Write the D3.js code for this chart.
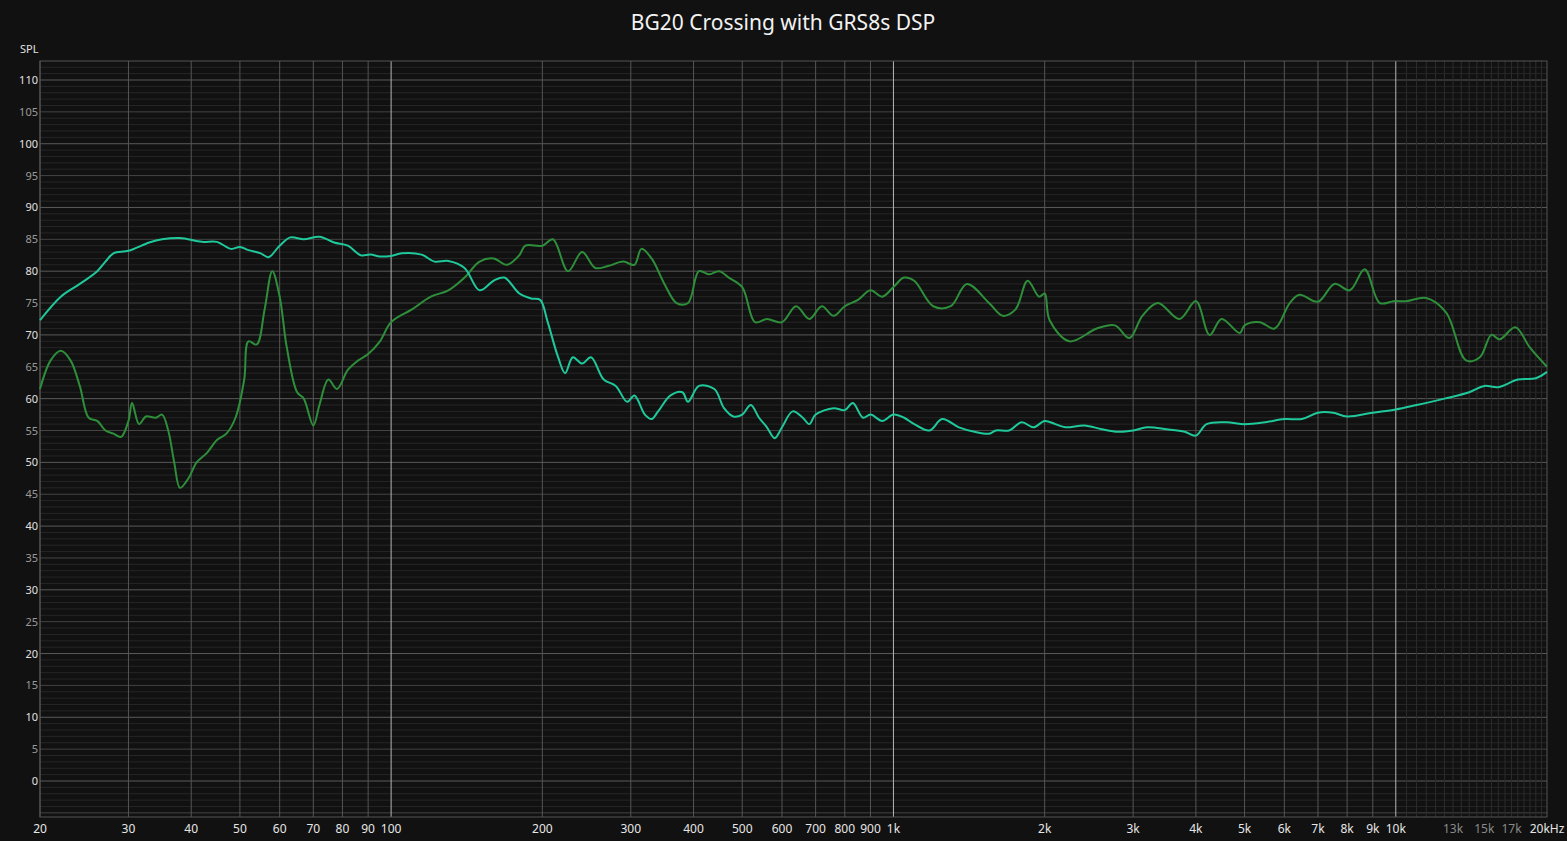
<!DOCTYPE html>
<html>
<head>
<meta charset="utf-8">
<script src="https://cdn.jsdelivr.net/npm/d3@7"></script>
<style>
  body { margin: 0; background: #111111; }
  svg { display: block; font-family: "Noto Sans", "Open Sans", sans-serif; }
</style>
</head>
<body>
<svg id="chart" width="1567" height="841"></svg>
<script>
// measured responses, [Hz, dB]
const cyanFreq = [20,22,24,26,27,28,30,33,35,38,42,45,48,50,52,55,57,60,63,67,72,77,82,87,91,95,100,105,115,122,130,140,150,160,168,180,190,198,205,215,222,230,240,250,265,280,295,305,320,330,340,360,380,390,410,440,460,480,500,520,540,560,580,600,630,660,680,700,760,800,830,870,900,950,1000,1050,1100,1180,1250,1350,1450,1550,1600,1700,1800,1900,2000,2100,2200,2400,2600,2800,3000,3200,3500,3800,4000,4200,4600,5000,5500,6000,6500,7000,7500,8000,9000,10000,11000,12500,14000,15000,16000,17500,19000,20000];
const cyanDb = [72.3,76,78,80,81.5,82.8,83.2,84.5,85,85.2,84.6,84.6,83.5,83.8,83.3,82.8,82.2,84,85.3,85,85.4,84.5,84,82.5,82.6,82.3,82.4,82.8,82.6,81.5,81.6,80.5,77,78.5,79,76.5,75.7,75.5,72,66.5,64,66.5,65.5,66.5,63,62,59.5,60.5,57.5,56.8,58,60.5,61,59.5,62,61.5,58.5,57.2,57.5,59,57,55.5,53.8,55.5,58,57,56,57.5,58.5,58.2,59.3,57,57.5,56.5,57.5,57,56,55,56.8,55.5,54.8,54.5,55,55,56.3,55.5,56.5,56,55.5,55.8,55.2,54.8,55,55.5,55.2,54.8,54.2,56,56.3,56,56.3,56.8,56.8,57.8,57.8,57.2,57.8,58.3,59,60,61,62,61.8,63,63.2,64.2];

const greenFreq = [20,21,22,23,24,25,26,27,28,29,30,30.5,31.5,32.5,34,35,36,37,38,39.5,41,43,45,47,49,51,52,54,56,58,60,62,65,67,70,72,75,78,82,86,90,95,100,110,120,130,140,150,160,170,180,185,200,210,225,240,255,270,290,305,315,330,350,370,390,410,430,450,470,500,530,560,600,640,680,720,760,800,850,900,950,1000,1050,1100,1200,1300,1400,1550,1650,1750,1850,1950,2000,2046,2240,2540,2760,2950,3130,3360,3710,4000,4260,4500,4890,5000,5360,5740,6150,6430,7000,7550,8100,8670,9290,9900,10500,11500,12600,13800,14700,15500,16100,17300,18500,20000];
const greenDb = [61.5,66,67.5,66,62,57,56.5,55,54.5,54,56.5,59.3,56,57.2,57,57.5,55,50,46,47.5,50,51.5,53.5,54.5,57,63,69,68.5,74,80,76,68,61,60,55.8,59,63,61.5,64.5,66,67,69,72,74,76,77,79,81.5,82,81,82.5,84,84,85,80,83,80.5,80.8,81.5,81,83.5,82,78,75,75,80,79.5,80,79,77.5,72,72.5,72,74.5,72.5,74.5,73,74.5,75.5,77,76,77.5,79,78.5,74.5,74.5,78,75,73,74,78.5,76,76.5,72.3,69,71,71.5,69.5,73,75,72.5,75.3,70,72.5,70.3,71.5,72,71,75,76.3,75.2,78,77,80.3,75,75.3,75.3,75.8,73.5,66,66.5,70,69.3,71.2,68,65,64];

const yTicks = d3.range(0, 111, 5);
const xLabels = [[20,"20"],[30,"30"],[40,"40"],[50,"50"],[60,"60"],[70,"70"],[80,"80"],[90,"90"],[100,"100"],
  [200,"200"],[300,"300"],[400,"400"],[500,"500"],[600,"600"],[700,"700"],[800,"800"],[900,"900"],[1000,"1k"],
  [2000,"2k"],[3000,"3k"],[4000,"4k"],[5000,"5k"],[6000,"6k"],[7000,"7k"],[8000,"8k"],[9000,"9k"],[10000,"10k"],
  [13000,"13k"],[15000,"15k"],[17000,"17k"],[20000,"20kHz"]];

const svg = d3.select("#chart");
const plotLeft = 40, plotRight = 1547, plotTop = 61, plotBottom = 817;

const x = d3.scaleLog().domain([20, 20000]).range([plotLeft, plotRight]);
const y = d3.scaleLinear().domain([0, 110]).range([781, 80]);

svg.append("text").attr("x", 783).attr("y", 30).attr("text-anchor", "middle")
  .attr("fill", "#f2f2f2").style("font-size", "21px").text("BG20 Crossing with GRS8s DSP");

const grid = svg.append("g");
// horizontal, every 1 dB
d3.range(-5, 113).forEach(v => {
  const col = v % 10 === 0 ? "#5a5a5a" : v % 5 === 0 ? "#444" : "#262626";
  grid.append("line").attr("x1", plotLeft).attr("x2", plotRight)
    .attr("y1", y(v)).attr("y2", y(v)).attr("stroke", col).attr("stroke-width", 1);
});
// vertical
const vLines = [];
[10, 100, 1000].forEach(dec => d3.range(1, 10).forEach(m => vLines.push(dec * m)));
vLines.push(10000);
d3.range(10500, 20000, 500).forEach(f => grid.append("line").attr("x1", x(f)).attr("x2", x(f))
  .attr("y1", plotTop).attr("y2", plotBottom).attr("stroke", "#2c2c2c"));
vLines.filter(f => f >= 20 && f <= 20000).forEach(f => {
  const major = f === 100 || f === 1000 || f === 10000;
  grid.append("line").attr("x1", x(f)).attr("x2", x(f))
    .attr("y1", plotTop).attr("y2", plotBottom)
    .attr("stroke", major ? "#b5b5b5" : "#555");
});
grid.append("rect").attr("x", plotLeft).attr("y", plotTop)
  .attr("width", plotRight - plotLeft).attr("height", plotBottom - plotTop)
  .attr("fill", "none").attr("stroke", "#555");

// y labels
svg.append("g").selectAll("text").data(yTicks).join("text")
  .attr("x", 38).attr("y", d => y(d) + 4).attr("text-anchor", "end")
  .attr("fill", d => d % 10 === 0 ? "#e0e0e0" : "#9a9a9a").style("font-size", "11px").text(d => d);
svg.append("text").attr("x", 20).attr("y", 53).attr("fill", "#e0e0e0").style("font-size", "11px").text("SPL");

// x labels
svg.append("g").selectAll("text").data(xLabels).join("text")
  .attr("x", d => x(d[0])).attr("y", 833).attr("text-anchor", "middle")
  .attr("fill", d => [13000, 15000, 17000].includes(d[0]) ? "#8a8a8a" : "#e6e6e6")
  .style("font-size", "12px").text(d => d[1]);

const line = d3.line().x(d => x(d[0])).y(d => y(d[1])).curve(d3.curveCatmullRom.alpha(0.5));

svg.append("path").datum(d3.zip(greenFreq, greenDb)).attr("d", line)
  .attr("fill", "none").attr("stroke", "#2e8f3b").attr("stroke-width", 2);
svg.append("path").datum(d3.zip(cyanFreq, cyanDb)).attr("d", line)
  .attr("fill", "none").attr("stroke", "#1fc99b").attr("stroke-width", 2);
</script>
</body>
</html>
